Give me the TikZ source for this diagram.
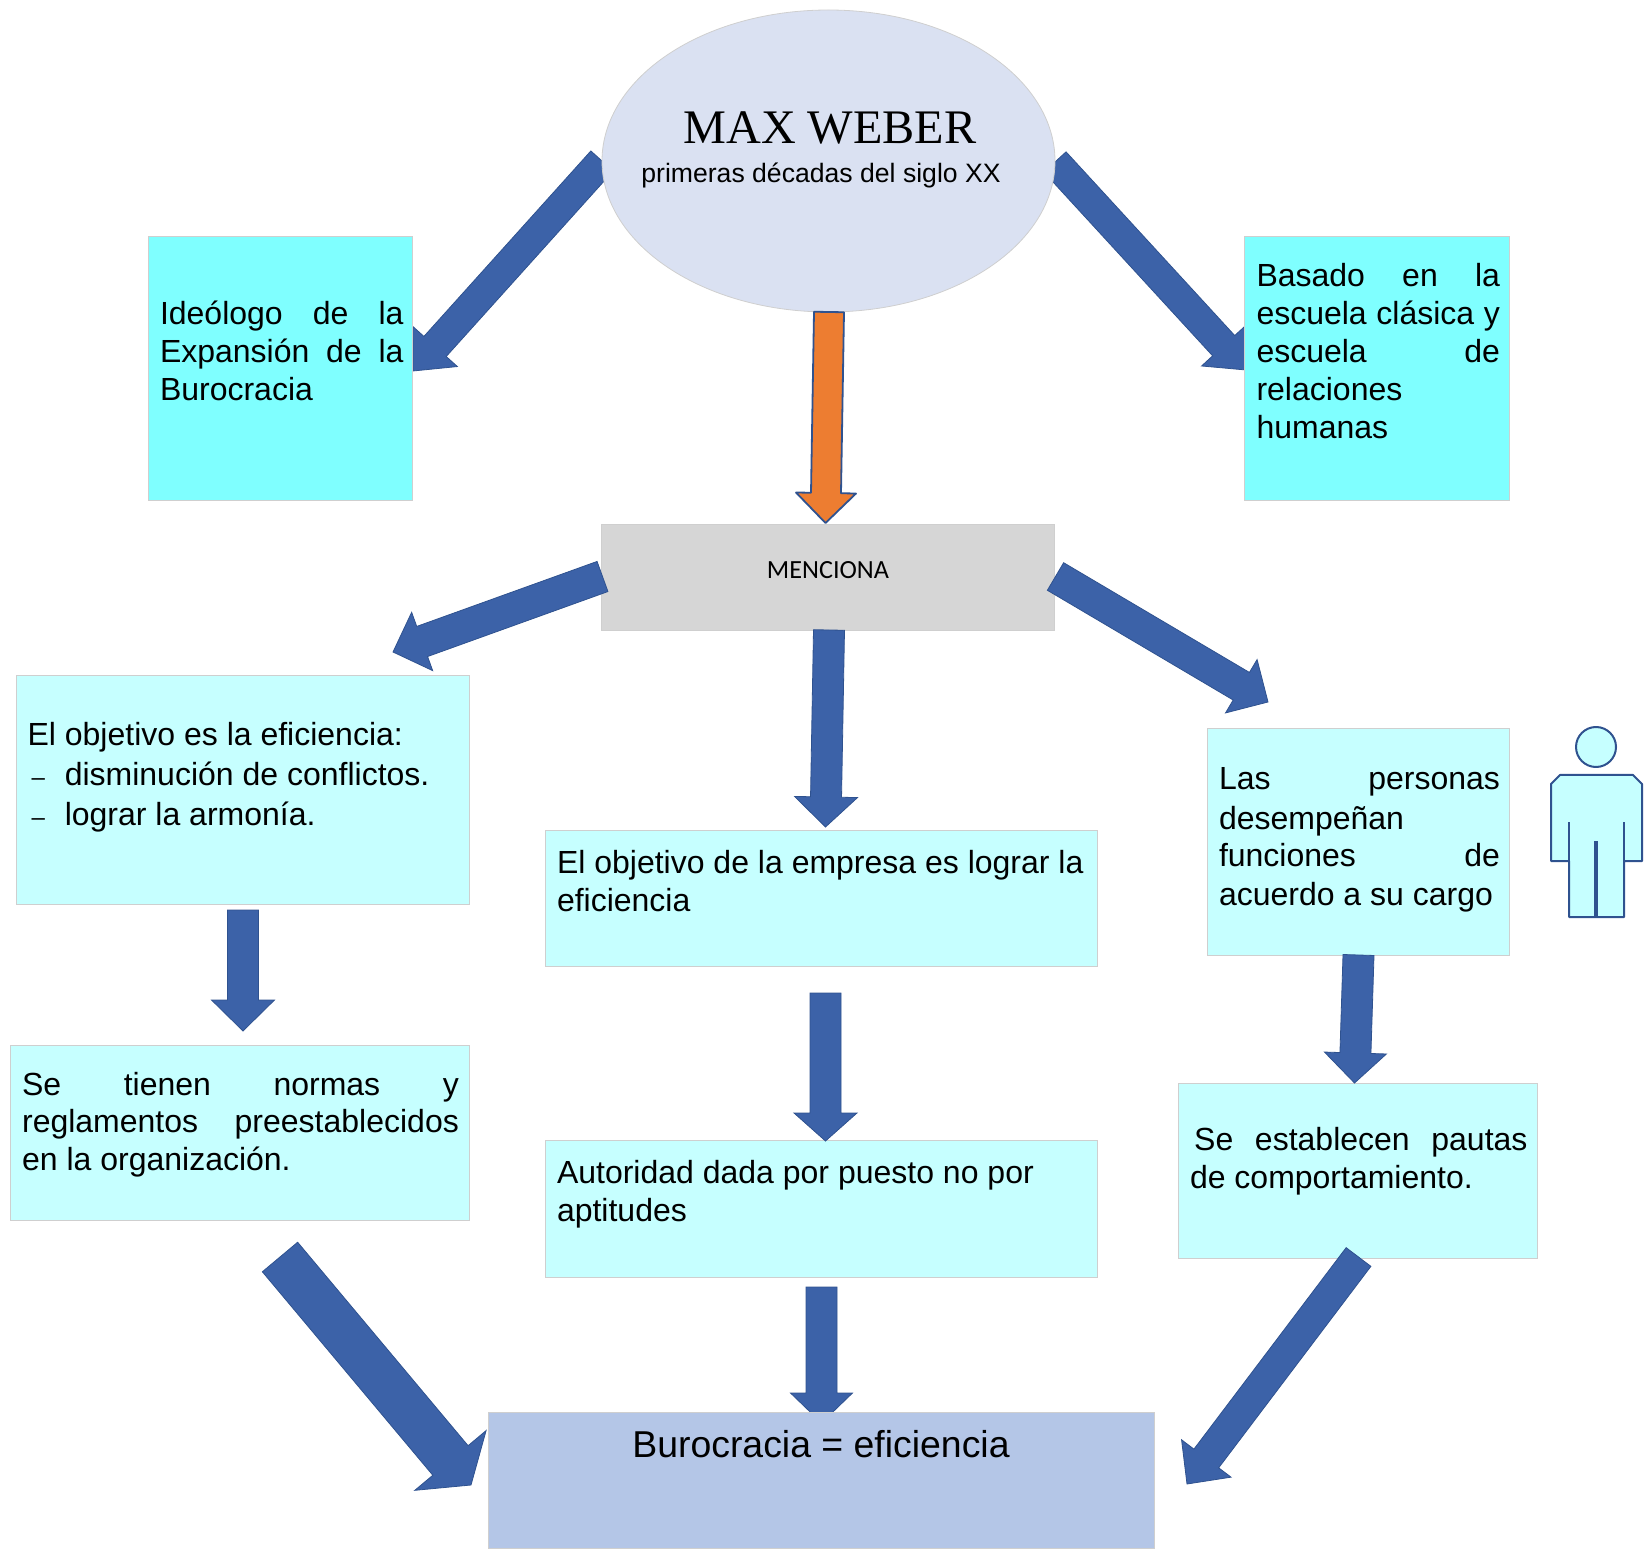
\documentclass[tikz,border=0pt]{standalone}
\usepackage{fontspec}
\setmainfont{Liberation Sans}
\newfontfamily\timesf{Liberation Serif}
\newfontfamily\carlitof{Carlito}
\usetikzlibrary{calc,shapes.geometric}
\definecolor{arrowblue}{HTML}{3C62A8}
\definecolor{arrowline}{HTML}{2F528F}
\definecolor{orangefill}{HTML}{ED7D31}
\definecolor{strongcyan}{HTML}{7FFFFF}
\definecolor{palecyan}{HTML}{C6FFFF}
\definecolor{ellipsefill}{HTML}{DAE1F2}
\definecolor{grayfill}{HTML}{D6D6D6}
\definecolor{bottomfill}{HTML}{B4C6E7}
\definecolor{edgegray}{HTML}{CFCFCF}
\tikzset{
  barrow/.style={fill=arrowblue,draw=arrowline,line width=0.4pt,line join=miter},
  oarrow/.style={fill=orangefill,draw=arrowline,line width=0.9pt,line join=round},
  boxbase/.style={draw=edgegray,line width=0.4pt,rectangle,inner sep=0pt,outer sep=0pt},
  cyanbox/.style={boxbase,fill=strongcyan},
  palebox/.style={boxbase,fill=palecyan},
  txtA/.style={font=\fontsize{16}{19}\selectfont},
  txtB/.style={font=\fontsize{16}{20}\selectfont},
  txtC/.style={font=\fontsize{16}{19.4}\selectfont},
  txtD/.style={font=\fontsize{16}{18.8}\selectfont},
  person/.style={fill=palecyan,draw=arrowline,line width=1pt,line join=round}
}
\newcommand{\blockarrow}[6][barrow]{%
  \coordinate (ba) at ($(#3)!#6*0.5pt!(#2)$);
  \path[#1] ($(#2)!#4*0.25pt!90:(#3)$) -- ($(ba)!#4*0.25pt!90:(#3)$)
    -- ($(ba)!#5*0.25pt!90:(#3)$) -- (#3) -- ($(ba)!#5*0.25pt!-90:(#3)$)
    -- ($(ba)!#4*0.25pt!-90:(#3)$) -- ($(#2)!#4*0.25pt!-90:(#3)$) -- cycle;}
\newcommand{\lsk}{6pt}
\newcommand{\rsk}{4.5pt}
\newcommand{\tbox}[8]{%
  \pgfmathsetmacro\boxw{(#5-#3)*0.5}%
  \pgfmathsetmacro\boxh{(#6-#4)*0.5}%
  \pgfmathsetmacro\boxt{#7*0.5-15}%
  \node[#2,anchor=north west,text width=\boxw pt,align=justify] (#1) at (#3,#4)
    {\vbox to \boxh pt{\parindent=0pt\leftskip=\lsk\rightskip=\rsk\tolerance=10000\hbadness=10000
      \vspace*{\boxt pt}\leavevmode\rule{0pt}{15pt}#8\par\vfill}};}
\begin{document}
\begin{tikzpicture}[x=0.5pt,y=-0.5pt]
\useasboundingbox (0,0) rectangle (1649,1550);
% connector end points
\coordinate (maxL) at (602,161);  \coordinate (ideoIn) at (413,371);
\coordinate (maxR) at (1055,162); \coordinate (basaIn) at (1246,370);
\coordinate (maxS) at (829,312);  \coordinate (menN) at (825.5,523);
\coordinate (menW) at (602.5,576.5); \coordinate (objA) at (393,652);
\coordinate (menE) at (1055.5,576.5); \coordinate (objC) at (1268,702);
\coordinate (menS) at (829,630);  \coordinate (objB) at (825.5,827);
\coordinate (aS) at (243,910);    \coordinate (dN) at (243,1031);
\coordinate (bS) at (825.5,993);  \coordinate (eN) at (825.5,1141);
\coordinate (eS) at (821.5,1287); \coordinate (botN) at (821.5,1423);
\coordinate (dS) at (280,1257);   \coordinate (botW) at (471,1485);
\coordinate (fS) at (1358.5,1257);\coordinate (botE) at (1187,1484);
\coordinate (cS) at (1358.5,955); \coordinate (fN) at (1354.5,1083);
% arrows that pass behind the shapes
\blockarrow{maxL}{ideoIn}{30}{60}{33}
\blockarrow{maxR}{basaIn}{30}{60}{33}
\blockarrow{eS}{botN}{31}{62}{30}
% shapes
\node[ellipse,draw=edgegray,line width=0.4pt,fill=ellipsefill,minimum width=226.5pt,minimum height=151pt,inner sep=0pt,outer sep=0pt] (max) at (828.5,161)
  {\makebox[0pt]{\smash{\hspace*{1.5pt}\raisebox{8.6pt}{\timesf\fontsize{24.1}{28}\selectfont MAX WEBER}}}%
   \makebox[0pt]{\smash{\hspace*{-7.5pt}\raisebox{-11pt}{\fontsize{13.3}{16}\selectfont primeras décadas del siglo XX}}}};
\tbox{ideo}{cyanbox,txtA}{148}{236}{412.5}{500}{89}{Ideólogo de la\linebreak Expansión de la\linebreak Burocracia}
\tbox{basa}{cyanbox,txtA}{1244.5}{236}{1509}{500}{51}{Basado en la\linebreak escuela clásica y\linebreak escuela de\linebreak relaciones\linebreak humanas}
\node[boxbase,fill=grayfill,minimum width=226.5pt,minimum height=53pt,anchor=north west] (men) at (601.5,524) {\raisebox{6.5pt}{\carlitof\fontsize{13.1}{16}\selectfont MENCIONA}};
\renewcommand{\lsk}{5.8pt}
\tbox{objetA}{palebox,txtB}{16}{675}{469.5}{904}{70}{El objetivo es la eficiencia:\newline
  \hbox to 18.6pt{\hspace{2pt}{\fontsize{12}{12}\selectfont –}\hfill}disminución de conflictos.\newline
  \hbox to 18.6pt{\hspace{2pt}{\fontsize{12}{12}\selectfont –}\hfill}lograr la armonía.}
\renewcommand{\rsk}{5.3pt}
\tbox{normas}{palebox,txtD}{10.5}{1045}{469.5}{1220}{50}{Se tienen normas y\linebreak reglamentos preestablecidos\linebreak en la organización.}
\renewcommand{\lsk}{6pt}\renewcommand{\rsk}{4.5pt}
\tbox{objetB}{palebox,txtA}{545}{830}{1097.5}{966}{43}{El objetivo de la empresa es lograr la\newline eficiencia}
\tbox{objetC}{palebox,txtC}{1207}{728}{1509}{955}{61}{Las personas\linebreak \raisebox{-1pt}{desempeñan}\linebreak funciones de\linebreak acuerdo a su cargo}
\tbox{autor}{palebox,txtC}{545}{1140}{1097.5}{1277}{43}{Autoridad dada por puesto no por\newline aptitudes}
\renewcommand{\rsk}{5pt}
\tbox{pautas}{palebox,txtC}{1178}{1083}{1537.5}{1258}{67}{\hspace*{2.1pt}Se establecen pautas\linebreak de comportamiento.}
\node[boxbase,fill=bottomfill,minimum width=333pt,minimum height=68pt,anchor=north west,align=center] (buro) at (488,1412)
  {\vbox to 68pt{\hsize=333pt\centering\vspace*{9.2pt}\fontsize{18.7}{22}\selectfont Burocracia = eficiencia\par\vfill}};
% arrows on top
\blockarrow[oarrow]{maxS}{menN}{30}{60}{30}
\blockarrow{menW}{objA}{32}{62}{31}
\blockarrow{menE}{objC}{32}{62}{31}
\blockarrow{menS}{objB}{31}{63}{30}
\blockarrow{aS}{dN}{31}{63}{31}
\blockarrow{bS}{eN}{31}{63}{28}
\blockarrow{dS}{botW}{46}{93}{32}
\blockarrow{fS}{botE}{31}{62}{32}
\blockarrow{cS}{fN}{31}{62}{30}
% person figure
\draw[person] (1551,861) -- (1551,784) -- (1560,775) -- (1633,775) -- (1642,784) -- (1642,861) -- (1624,861) -- (1624,917) -- (1569,917) -- (1569,861) -- cycle;
\draw[person] (1596,747) circle[radius=10pt];
\draw[person] (1569,822) -- (1569,861);
\draw[person] (1624,822) -- (1624,861);
\draw[person,line width=1.6pt] (1596,841) -- (1596,917);
\end{tikzpicture}
\end{document}
